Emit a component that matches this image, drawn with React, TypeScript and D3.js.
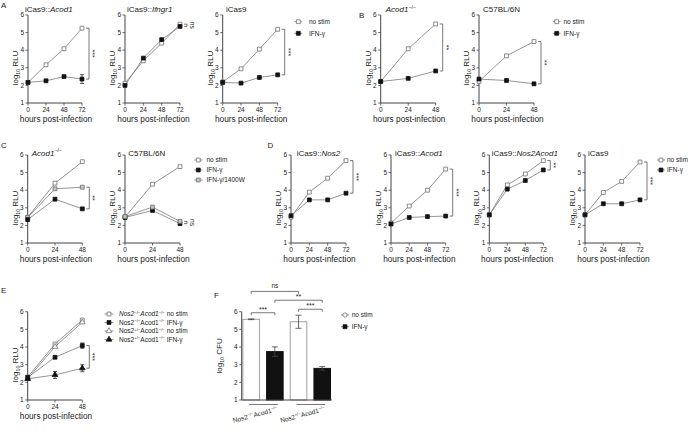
import * as d3 from 'd3'

type Seg = { t: string; it?: boolean; sh?: 'sup' | 'sub' }
type Marker = 'openSq' | 'fillSq' | 'graySq' | 'openTri' | 'fillTri' | 'openCirc'

const yTicks = [1, 2, 3, 4, 5, 6]
const hours72 = [0, 24, 48, 72]
const hours48 = [0, 24, 48]

// A: iCas9 lines
const aAcod1NoStim = [2.17, 3.17, 4.08, 5.25]
const aAcod1Ifn = [2.17, 2.26, 2.5, 2.36]
const aAcod1IfnErr = [0, 0.04, 0.05, 0.25]
const aIfngr1NoStim = [2.12, 3.4, 4.4, 5.48]
const aIfngr1Ifn = [2.0, 3.55, 4.6, 5.35]
const aCas9NoStim = [2.2, 2.94, 4.06, 5.19]
const aCas9Ifn = [2.17, 2.13, 2.45, 2.6]

// B
const bAcod1NoStim = [2.22, 4.08, 5.49]
const bAcod1Ifn = [2.22, 2.4, 2.82]
const bB6NoStim = [2.23, 3.68, 4.49]
const bB6Ifn = [2.36, 2.28, 2.09]

// C
const cAcod1NoStim = [2.47, 4.4, 5.62]
const cAcod1Ifn = [2.33, 3.49, 2.94]
const cAcod11400W = [2.45, 4.08, 4.17]
const cB6NoStim = [2.47, 4.34, 5.34]
const cB6Ifn = [2.45, 2.85, 2.1]
const cB61400W = [2.5, 3.04, 2.23]

// D
const dNos2NoStim = [2.47, 3.89, 4.68, 5.68]
const dNos2Ifn = [2.55, 3.45, 3.45, 3.83]
const dAcod1NoStim = [2.13, 3.1, 4.0, 5.2]
const dAcod1Ifn = [2.08, 2.45, 2.5, 2.53]
const dDoubleNoStim = [2.6, 4.3, 4.92, 5.68]
const dDoubleIfn = [2.6, 4.06, 4.55, 5.15]
const dCas9NoStim = [2.6, 3.87, 4.5, 5.6]
const dCas9Ifn = [2.6, 3.23, 3.23, 3.45]

// E
const eKoNoStim = [2.3, 4.17, 5.53]
const eKoIfn = [2.28, 3.42, 4.08]
const eKoIfnErr = [0.05, 0.05, 0.15]
const eHetNoStim = [2.2, 4.02, 5.4]
const eHetIfn = [2.2, 2.42, 2.8]
const eHetIfnErr = [0.05, 0.2, 0.2]

// F: CFU bars
const fKeys = ['koNoStim', 'koIfn', 'hetNoStim', 'hetIfn']
const fValues = [5.57, 3.74, 5.43, 2.79]
const fErr = [0.02, 0.27, 0.37, 0.1]

const labNoStim: Seg[] = [{ t: 'no stim' }]
const labIfn: Seg[] = [{ t: 'IFN-γ' }]
const lab1400W: Seg[] = [{ t: 'IFN-γ/1400W' }]

const FONT = 'Liberation Sans, Arial, Helvetica, sans-serif'
const TXT = '#222'
const AX = '#444'
const LN = '#7a7a7a'

function Rich({ segs, x = 0, y = 0, size, anchor = 'start', transform }: {
  segs: Seg[]; x?: number; y?: number; size: number; anchor?: string; transform?: string
}) {
  let shift = 0
  return (
    <text x={x} y={y} fontSize={size} textAnchor={anchor} transform={transform} fill={TXT} fontFamily={FONT}>
      {segs.map((s, i) => {
        const target = s.sh === 'sup' ? -size * 0.4 : s.sh === 'sub' ? size * 0.3 : 0
        const dy = target - shift
        shift = target
        return (
          <tspan key={i} dy={dy || undefined} fontStyle={s.it ? 'italic' : undefined}
            fontSize={s.sh ? size * 0.65 : undefined}>{s.t}</tspan>
        )
      })}
    </text>
  )
}

const symSq = d3.symbol(d3.symbolSquare, 15)
const symTri = d3.symbol(d3.symbolTriangle, 14)
const symCirc = d3.symbol(d3.symbolCircle, 14)

function Mark({ kind, cx, cy }: { kind: Marker; cx: number; cy: number }) {
  const filled = kind === 'fillSq' || kind === 'fillTri'
  const fill = filled ? '#111' : kind === 'graySq' ? '#c4c4c4' : '#fff'
  const stroke = filled ? '#111' : '#707070'
  const d = kind === 'openTri' || kind === 'fillTri' ? symTri() : kind === 'openCirc' ? symCirc() : symSq()
  return <path d={d || ''} transform={`translate(${cx},${cy})`} fill={fill} stroke={stroke} strokeWidth={0.8} />
}

interface Series { values: number[]; err?: number[]; marker: Marker }
interface LinePanelCfg {
  left: number; top: number; bottom: number; width: number
  hours: number[]
  title?: Seg[]; titleX?: number; titleY?: number
  series: Series[]
  sig: { hi: number; lo: number; text: string }
}

const yLabel: Seg[] = [{ t: 'log' }, { t: '10', sh: 'sub' }, { t: ' RLU' }]

function LinePanel({ p }: { p: LinePanelCfg }) {
  const x = d3.scaleLinear().domain([0, d3.max(p.hours) as number]).range([p.left, p.left + p.width])
  const y = d3.scaleLinear().domain([1, 6]).range([p.bottom, p.top])
  const line = d3.line<number>().x((_, i) => x(p.hours[i])).y(d => y(d))
  const xEnd = x.range()[1]
  const xb = xEnd + 7
  const isNs = p.sig.text === 'ns'
  return (
    <g>
      {p.title && <Rich segs={p.title} x={p.titleX} y={p.titleY} size={8} />}
      <line x1={p.left} x2={p.left} y1={y(1)} y2={y(6)} stroke={AX} strokeWidth={1} />
      <line x1={p.left} x2={xEnd} y1={y(1)} y2={y(1)} stroke={AX} strokeWidth={1} />
      {yTicks.map(t => (
        <g key={t}>
          <line x1={p.left - 2.5} x2={p.left} y1={y(t)} y2={y(t)} stroke={AX} strokeWidth={0.8} />
          <text x={p.left - 4} y={y(t)} dy="0.35em" textAnchor="end" fontSize={6.5} fill={TXT} fontFamily={FONT}>{t}</text>
        </g>
      ))}
      {p.hours.map(h => (
        <g key={h}>
          <line x1={x(h)} x2={x(h)} y1={y(1)} y2={y(1) + 2.5} stroke={AX} strokeWidth={0.8} />
          <text x={x(h)} y={y(1) + 9} textAnchor="middle" fontSize={6.5} fill={TXT} fontFamily={FONT}>{h}</text>
        </g>
      ))}
      <text x={(p.left + xEnd) / 2 + 1} y={y(1) + 19} textAnchor="middle" fontSize={8.3} fill={TXT} fontFamily={FONT}>hours post-infection</text>
      <Rich segs={yLabel} size={8} anchor="middle"
        transform={`translate(${p.left - 10},${(p.top + p.bottom) / 2 + 9}) rotate(-90)`} />
      {p.series.map((s, i) => (
        <path key={'l' + i} d={line(s.values) || ''} fill="none" stroke={LN} strokeWidth={0.8} />
      ))}
      {p.series.map((s, i) => s.err && s.err.map((e, j) => e > 0.06 && (
        <g key={`e${i}-${j}`} stroke="#333" strokeWidth={0.8}>
          <line x1={x(p.hours[j])} x2={x(p.hours[j])} y1={y(s.values[j] - e)} y2={y(s.values[j] + e)} />
          <line x1={x(p.hours[j]) - 2} x2={x(p.hours[j]) + 2} y1={y(s.values[j] - e)} y2={y(s.values[j] - e)} />
          <line x1={x(p.hours[j]) - 2} x2={x(p.hours[j]) + 2} y1={y(s.values[j] + e)} y2={y(s.values[j] + e)} />
        </g>
      )))}
      {p.series.map((s, i) => s.values.map((v, j) => (
        <Mark key={`m${i}-${j}`} kind={s.marker} cx={x(p.hours[j])} cy={y(v)} />
      )))}
      <path d={`M${xb - 3},${y(p.sig.hi)}H${xb}V${y(p.sig.lo)}H${xb - 3}`} fill="none" stroke="#555" strokeWidth={0.8} />
      <text transform={`translate(${xb + (isNs ? 3 : 1)},${(y(p.sig.hi) + y(p.sig.lo)) / 2}) rotate(90)`}
        textAnchor="middle" fontSize={isNs ? 6.5 : 7} fill={TXT} fontFamily={FONT}>{p.sig.text}</text>
    </g>
  )
}

function Legend({ items, mx, ys, tx, half = 4 }: {
  items: { marker: Marker; label: Seg[] }[]; mx: number; ys: number[]; tx: number; half?: number
}) {
  return (
    <g>
      {items.map((it, i) => (
        <g key={i}>
          <line x1={mx - half} x2={mx + half} y1={ys[i]} y2={ys[i]} stroke={LN} strokeWidth={0.8} />
          <Mark kind={it.marker} cx={mx} cy={ys[i]} />
          <Rich segs={it.label} x={tx} y={ys[i] + 2.2} size={6.5} />
        </g>
      ))}
    </g>
  )
}

const ital = (t: string): Seg => ({ t, it: true })
const sup = (t: string): Seg => ({ t, sh: 'sup' })

const row1 = { top: 15, bottom: 103, titleY: 12 }
const row2 = { top: 155, bottom: 243, titleY: 155.5 }

const panels: LinePanelCfg[] = [
  { ...row1, left: 28, width: 54, hours: hours72, title: [{ t: 'iCas9::' }, ital('Acod1')], titleX: 25,
    series: [{ values: aAcod1NoStim, marker: 'openSq' }, { values: aAcod1Ifn, err: aAcod1IfnErr, marker: 'fillSq' }],
    sig: { hi: 5.25, lo: 2.36, text: '***' } },
  { ...row1, left: 125, width: 55, hours: hours72, title: [{ t: 'iCas9::' }, ital('Ifngr1')], titleX: 127,
    series: [{ values: aIfngr1NoStim, marker: 'openSq' }, { values: aIfngr1Ifn, marker: 'fillSq' }],
    sig: { hi: 5.48, lo: 5.35, text: 'ns' } },
  { ...row1, left: 222.7, width: 55, hours: hours72, title: [{ t: 'iCas9' }], titleX: 226,
    series: [{ values: aCas9NoStim, marker: 'openSq' }, { values: aCas9Ifn, marker: 'fillSq' }],
    sig: { hi: 5.19, lo: 2.6, text: '***' } },
  { ...row1, left: 380.7, width: 55, hours: hours48, title: [ital('Acod1'), sup('−/−')], titleX: 385.7,
    series: [{ values: bAcod1NoStim, marker: 'openSq' }, { values: bAcod1Ifn, marker: 'fillSq' }],
    sig: { hi: 5.49, lo: 2.82, text: '**' } },
  { ...row1, left: 479, width: 55, hours: hours48, title: [{ t: 'C57BL/6N' }], titleX: 483,
    series: [{ values: bB6NoStim, marker: 'openSq' }, { values: bB6Ifn, marker: 'fillSq' }],
    sig: { hi: 4.49, lo: 2.09, text: '**' } },
  { ...row2, left: 27.7, width: 54.6, hours: hours48, title: [ital('Acod1'), sup('−/−')], titleX: 31.7,
    series: [{ values: cAcod1NoStim, marker: 'openSq' }, { values: cAcod11400W, marker: 'graySq' }, { values: cAcod1Ifn, marker: 'fillSq' }],
    sig: { hi: 4.17, lo: 2.94, text: '**' } },
  { ...row2, left: 125, width: 55, hours: hours48, title: [{ t: 'C57BL/6N' }], titleX: 128.3,
    series: [{ values: cB6NoStim, marker: 'openSq' }, { values: cB6Ifn, marker: 'fillSq' }, { values: cB61400W, marker: 'graySq' }],
    sig: { hi: 2.23, lo: 2.1, text: 'ns' } },
  { ...row2, left: 291, width: 55, hours: hours72, title: [{ t: 'iCas9::' }, ital('Nos2')], titleX: 296.7,
    series: [{ values: dNos2NoStim, marker: 'openSq' }, { values: dNos2Ifn, marker: 'fillSq' }],
    sig: { hi: 5.68, lo: 3.83, text: '***' } },
  { ...row2, left: 391, width: 54.7, hours: hours72, title: [{ t: 'iCas9::' }, ital('Acod1')], titleX: 395,
    series: [{ values: dAcod1NoStim, marker: 'openSq' }, { values: dAcod1Ifn, marker: 'fillSq' }],
    sig: { hi: 5.2, lo: 2.53, text: '***' } },
  { ...row2, left: 489.3, width: 54, hours: hours72, title: [{ t: 'iCas9::' }, ital('Nos2Acod1')], titleX: 491.7,
    series: [{ values: dDoubleNoStim, marker: 'openSq' }, { values: dDoubleIfn, marker: 'fillSq' }],
    sig: { hi: 5.68, lo: 5.15, text: '**' } },
  { ...row2, left: 585, width: 55, hours: hours72, title: [{ t: 'iCas9' }], titleX: 588,
    series: [{ values: dCas9NoStim, marker: 'openSq' }, { values: dCas9Ifn, marker: 'fillSq' }],
    sig: { hi: 5.6, lo: 3.45, text: '***' } },
  { top: 311.7, bottom: 400, left: 27.7, width: 54.6, hours: hours48,
    series: [
      { values: eKoNoStim, marker: 'openSq' }, { values: eHetNoStim, marker: 'openTri' },
      { values: eKoIfn, err: eKoIfnErr, marker: 'fillSq' }, { values: eHetIfn, err: eHetIfnErr, marker: 'fillTri' },
    ],
    sig: { hi: 4.08, lo: 2.8, text: '***' } },
]

const ko: Seg[] = [{ t: 'Nos2' }, sup('−/−'), { t: 'Acod1' }, sup('−/−')]
const het: Seg[] = [{ t: 'Nos2' }, sup('+/−'), { t: 'Acod1' }, sup('−/−')]

function BarPanel() {
  const left = 241.7, right = 331.7, top = 311.7, bottom = 400
  const x = d3.scaleBand().domain(fKeys).range([left, right]).paddingInner(0.3).paddingOuter(0.05)
  const y = d3.scaleLinear().domain([1, 6]).range([bottom, top])
  const bw = x.bandwidth()
  const c = (i: number) => (x(fKeys[i]) as number) + bw / 2
  const brackets = [
    { a: 0, b: 2, v: 7.15, t: 'ns' },
    { a: 1, b: 3, v: 6.65, t: '**' },
    { a: 2, b: 3, v: 6.14, t: '***' },
    { a: 0, b: 1, v: 5.94, t: '***' },
  ]
  return (
    <g>
      <Rich segs={[{ t: 'log' }, { t: '10', sh: 'sub' }, { t: ' CFU' }]} size={8} anchor="middle"
        transform={`translate(${left - 20},${(top + bottom) / 2}) rotate(-90)`} />
      {fKeys.map((k, i) => (
        <rect key={k} x={x(k)} y={y(fValues[i])} width={bw} height={y(1) - y(fValues[i])}
          fill={i % 2 ? '#111' : '#fff'} stroke={i % 2 ? '#111' : '#a0a0a0'} strokeWidth={1} />
      ))}
      {fKeys.map((k, i) => (
        <g key={'e' + k} stroke="#444" strokeWidth={0.8}>
          <line x1={c(i)} x2={c(i)} y1={y(fValues[i] - fErr[i])} y2={y(fValues[i] + fErr[i])} />
          <line x1={c(i) - 3} x2={c(i) + 3} y1={y(fValues[i] + fErr[i])} y2={y(fValues[i] + fErr[i])} />
          <line x1={c(i) - 3} x2={c(i) + 3} y1={y(fValues[i] - fErr[i])} y2={y(fValues[i] - fErr[i])} />
        </g>
      ))}
      <line x1={left} x2={left} y1={y(1)} y2={y(6)} stroke={AX} strokeWidth={1} />
      <line x1={left} x2={right} y1={y(1)} y2={y(1)} stroke={AX} strokeWidth={1} />
      {yTicks.map(t => (
        <g key={t}>
          <line x1={left - 2.5} x2={left} y1={y(t)} y2={y(t)} stroke={AX} strokeWidth={0.8} />
          <text x={left - 4} y={y(t)} dy="0.35em" textAnchor="end" fontSize={6.5} fill={TXT} fontFamily={FONT}>{t}</text>
        </g>
      ))}
      {brackets.map((b, i) => (
        <g key={i}>
          <path d={`M${c(b.a)},${y(b.v) + 2.5}V${y(b.v)}H${c(b.b)}V${y(b.v) + 2.5}`} fill="none" stroke="#555" strokeWidth={0.8} />
          <text x={(c(b.a) + c(b.b)) / 2} y={y(b.v) - (b.t === 'ns' ? 3 : 1)} textAnchor="middle"
            fontSize={b.t === 'ns' ? 6.5 : 7} fill={TXT} fontFamily={FONT}>{b.t}</text>
        </g>
      ))}
      {[ko, het].map((segs, g) => (
        <g key={g}>
          <line x1={c(g * 2) - 2} x2={c(g * 2 + 1) + 3} y1={y(1) + 4.5} y2={y(1) + 4.5} stroke="#555" strokeWidth={0.8} />
          <Rich segs={segs} size={6.5} anchor="end"
            transform={`translate(${c(g * 2 + 1) + 3},${y(1) + 11}) rotate(-15)`} />
        </g>
      ))}
    </g>
  )
}

const eLegend = [
  { marker: 'openSq' as Marker, label: [ital('Nos2'), sup('−/−'), ital('Acod1'), sup('−/−'), { t: ' no stim' }] },
  { marker: 'fillSq' as Marker, label: [...ko, { t: ' IFN-γ' }] },
  { marker: 'openTri' as Marker, label: [...het, { t: ' no stim' }] },
  { marker: 'fillTri' as Marker, label: [...het, { t: ' IFN-γ' }] },
]

const letters = [
  { t: 'A', x: 1, y: 8 }, { t: 'B', x: 359, y: 18 }, { t: 'C', x: 1, y: 148 },
  { t: 'D', x: 267.5, y: 148 }, { t: 'E', x: 1, y: 293 }, { t: 'F', x: 214, y: 298 },
]

export default function App() {
  return (
    <svg width={696} height={431} style={{ position: 'absolute', left: 0, top: 0, background: '#fff' }}
      fontFamily={FONT}>
      <rect width={696} height={431} fill="#fff" />
      {letters.map(l => (
        <text key={l.t} x={l.x} y={l.y} fontSize={8} fill={TXT}>{l.t}</text>
      ))}
      {panels.map((p, i) => <LinePanel key={i} p={p} />)}
      <BarPanel />
      <Legend mx={298.3} ys={[21.7, 33.3]} tx={309} half={4}
        items={[{ marker: 'openSq', label: labNoStim }, { marker: 'fillSq', label: labIfn }]} />
      <Legend mx={556.7} ys={[21.7, 33.3]} tx={563.5} half={4}
        items={[{ marker: 'openSq', label: labNoStim }, { marker: 'fillSq', label: labIfn }]} />
      <Legend mx={198.3} ys={[160, 170, 180]} tx={206.5} half={4}
        items={[{ marker: 'openSq', label: labNoStim }, { marker: 'fillSq', label: labIfn }, { marker: 'graySq', label: lab1400W }]} />
      <Legend mx={661} ys={[160, 170]} tx={667} half={4}
        items={[{ marker: 'openSq', label: labNoStim }, { marker: 'fillSq', label: labIfn }]} />
      <Legend mx={109} ys={[314, 322.5, 331, 339.5]} tx={119} half={4.5} items={eLegend} />
      <Legend mx={345} ys={[315, 326.7]} tx={351.7} half={4}
        items={[{ marker: 'openCirc', label: labNoStim }, { marker: 'fillSq', label: labIfn }]} />
    </svg>
  )
}
